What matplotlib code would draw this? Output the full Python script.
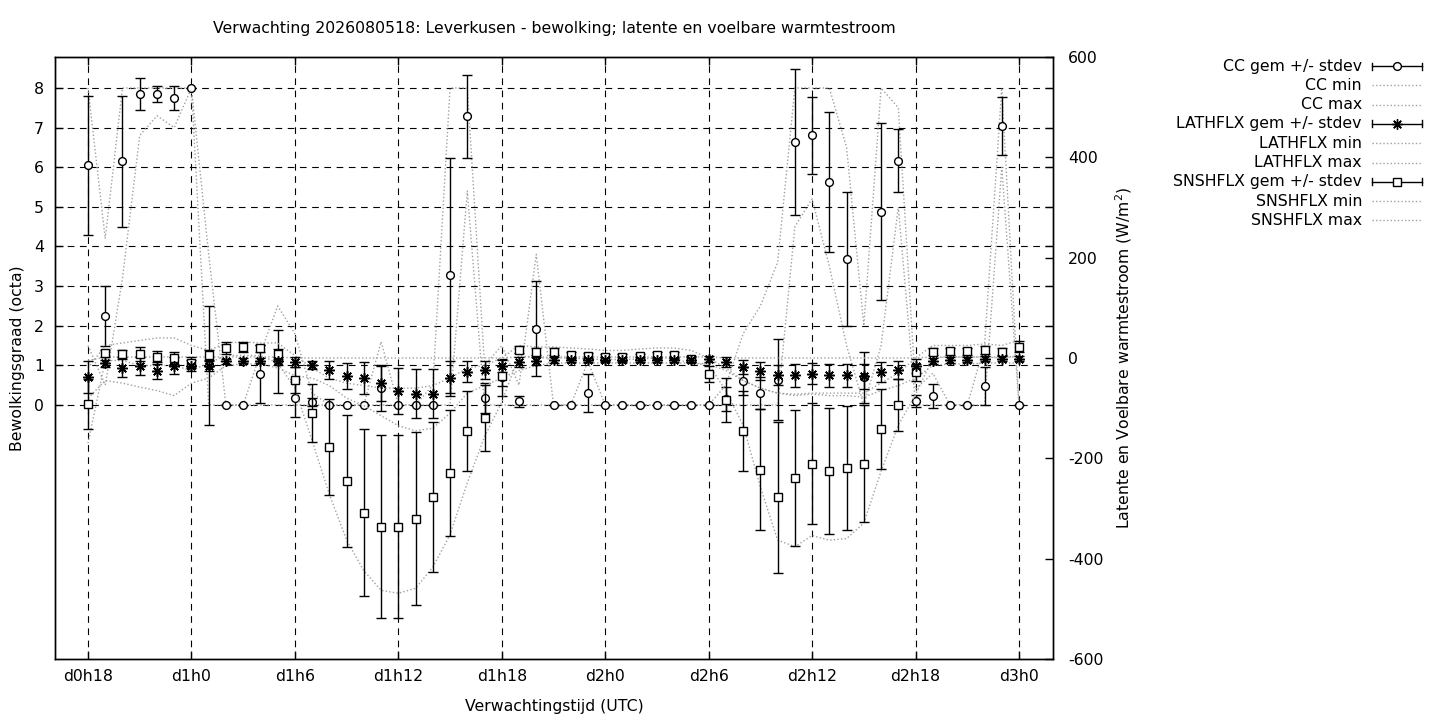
import numpy as np
import matplotlib
matplotlib.use('Agg')
import matplotlib.pyplot as plt
from matplotlib.lines import Line2D

plt.rcParams['font.family'] = ['DejaVu Sans']
plt.rcParams['axes.unicode_minus'] = False

# ---------------- data (hourly, lead time in hours from d0h0) ----------------
hours = list(range(18, 73))
tick_hours = [18, 24, 30, 36, 42, 48, 54, 60, 66, 72]
tick_labels = ['d0h18', 'd1h0', 'd1h6', 'd1h12', 'd1h18',
               'd2h0', 'd2h6', 'd2h12', 'd2h18', 'd3h0']
left_ticks = [0, 1, 2, 3, 4, 5, 6, 7, 8]
right_ticks = [-600, -400, -200, 0, 200, 400, 600]

cc_mean = [6.05, 2.25, 6.15, 7.85, 7.85, 7.75, 8.0, 1.0, 0, 0,
           0.78, 1.1, 0.17, 0.08, 0, 0, 0, 0.44, 0, 0,
           0, 3.27, 7.29, 0.17, 0.7, 0.09, 1.92, 0, 0, 0.3,
           0, 0, 0, 0, 0, 0, 0, 0.15, 0.6, 0.3,
           0.64, 6.64, 6.81, 5.62, 3.69, 0.7, 4.88, 6.17, 0.1, 0.23,
           0, 0, 0.49, 7.04, 0]
cc_sd = [1.75, 0.76, 1.66, 0.4, 0.2, 0.3, 0, 1.5, 0, 0,
         0.73, 0.8, 0.48, 0.1, 0, 0, 0, 0.58, 0, 0,
         0, 2.97, 1.05, 0.38, 0.47, 0.13, 1.2, 0, 0, 0.47,
         0, 0, 0, 0, 0, 0, 0, 0.3, 0.35, 0.4,
         1.03, 1.84, 0.97, 1.77, 1.69, 0.65, 2.24, 0.79, 0.15, 0.31,
         0, 0, 0.48, 0.72, 0]
cc_min = [1.5, 0.5, 3.2, 6.8, 7.3, 7.0, 8.0, 0, 0, 0,
          0, 0, 0, 0, 0, 0, 0, 0, 0, 0,
          0, 0, 5.4, 0, 0, 0, 0, 0, 0, 0,
          0, 0, 0, 0, 0, 0, 0, 0, 0, 0,
          0, 4.5, 5.2, 3.5, 1.5, 0, 1.5, 5.0, 0, 0,
          0, 0, 0, 6.0, 0]
cc_max = [8.0, 4.2, 8.0, 8.0, 8.0, 8.0, 8.0, 3.8, 0, 0,
          1.3, 2.5, 1.8, 0.3, 0, 0, 0, 1.6, 0, 0,
          0.5, 8.0, 8.0, 1.0, 1.5, 0.5, 3.8, 0, 0, 1.1,
          0, 0, 0, 0, 0, 0, 0, 0.5, 1.8, 2.5,
          3.6, 8.0, 8.0, 8.0, 6.5, 2.0, 8.0, 7.5, 0.4, 0.8,
          0, 0, 1.5, 8.0, 0]

lat_mean = [-38.5, -10.6, -20.6, -16, -25, -15, -15, -15, -6, -5.3,
            -5.3, -6, -8, -13.3, -23, -35.4, -40.7, -50, -66, -71.3,
            -71.3, -40.7, -27.8, -23, -15.5, -8, -6.4, -4, -3, -4,
            -3, -3, -3, -3, -3, -3, -2.4, -8, -17.8, -25.5,
            -34, -34, -31.6, -34, -34, -36, -28.5, -23.8, -15.4, -5.6,
            -4, -3.3, -1.8, -1, -1.8]
lat_sd = [32, 7, 18, 17, 17, 17, 11, 10, 5, 5,
          5, 8, 10, 8, 18, 26, 32, 35, 46, 49,
          49, 35, 21, 18, 12, 10, 8, 5, 4, 4,
          4, 4, 4, 4, 4, 4, 6, 10, 14, 18,
          20, 23, 21, 23, 23, 25, 20, 18, 14, 6,
          5, 5, 5, 5, 5]
lat_min = [-80, -45, -50, -58, -65, -75, -50, -40, -15, -12,
           -12, -20, -35, -40, -55, -80, -95, -115, -135, -145,
           -140, -110, -70, -55, -40, -25, -15, -10, -10, -10,
           -10, -10, -10, -10, -10, -10, -12, -25, -45, -60,
           -70, -75, -72, -75, -75, -78, -65, -55, -40, -15,
           -12, -12, -10, -10, -10]
lat_max = [-5, 2, 2, 2, 2, 2, 2, 2, 2, 2,
           2, 2, 0, 0, 0, 0, 0, 0, 0, 0,
           0, 0, 0, 0, 0, 2, 2, 2, 2, 2,
           2, 2, 2, 2, 2, 2, 2, 0, 0, 0,
           0, 0, 0, 0, 0, 0, 0, 0, 0, 2,
           2, 2, 2, 2, 2]

sns_mean = [-92, 9.3, 8, 8, 1.3, -0.7, -9.3, 5.3, 19.3, 21.3,
            19.3, 8, -44, -110, -178, -245, -308, -336, -336, -320,
            -277, -229, -145, -119, -35, 16.5, 12, 12, 6, 3.7,
            2, 2, 3.7, 6, 6, -1.8, -31.5, -83, -145.5, -222.6,
            -278, -239, -210.5, -225, -219, -210.5, -141.7, -93.4, -28.4, 12.8,
            13.7, 13.7, 16, 12.8, 22]
sns_sd = [50, 7, 7, 13, 13, 12, 11, 10, 12, 10,
          7, 10, 26, 58, 96, 131, 166, 182, 183, 173,
          150, 125, 80, 66, 20, 7, 7, 7, 6, 6,
          5, 5, 5, 6, 6, 6, 16, 44, 80, 120,
          151, 135, 120, 125, 124, 116, 79, 52, 17, 7,
          7, 7, 8, 7, 11]
sns_min = [-170, -5, -5, -15, -15, -15, -25, -10, 5, 5,
           5, -10, -60, -165, -272, -363, -424, -463, -469, -459,
           -417, -352, -249, -157, -88, 5, 0, 0, 0, -2,
           -3, -3, -2, 0, 0, -12, -12, -66, -134, -257,
           -363, -376, -354, -363, -360, -329, -226, -134, -73, 0,
           2, 2, 2, 0, 5]
sns_max = [-20, 25, 30, 35, 40, 40, 25, 15, 30, 32,
           30, 30, 5, -20, -40, -50, -55, -60, -60, -60,
           -55, -40, -20, -15, 0, 25, 22, 22, 20, 18,
           15, 15, 18, 20, 20, 15, 0, -20, -45, -60,
           -70, -72, -70, -70, -70, -70, -50, -30, 0, 25,
           25, 25, 28, 25, 35]

title = 'Verwachting 2026080518: Leverkusen - bewolking; latente en voelbare warmtestroom'

# ---------------- figure ----------------
W, H = 1440, 720
FS = 11.3
fig = plt.figure(figsize=(W / 100, H / 100), dpi=100)
ax = fig.add_axes([55 / W, 1 - 659 / H, (1053 - 55) / W, (659 - 57) / H])
ax2 = ax.twinx()

ax.set_xlim(16.086, 73.972)
ax.set_ylim(-6.410, 8.782)
ax2.set_ylim(-600, 600)

dot_style = dict(color='#a0a0a0', lw=1.0, linestyle=(0, (1, 1.6)))
eb_style = dict(ecolor='black', elinewidth=1.0, capsize=3.5, capthick=1.0,
                linestyle='none', mec='black', mew=1.0, zorder=4)
MS_O = 5.6
MS_AST = 7.5

# CC (left axis)
ax.errorbar(hours, cc_mean, yerr=cc_sd, fmt='o', ms=MS_O, mfc='white', **eb_style)
ax.plot(hours, cc_min, zorder=2, **dot_style)
ax.plot(hours, cc_max, zorder=2, **dot_style)

# LATHFLX and SNSHFLX (right axis)
ax2.plot(hours, lat_min, zorder=2, **dot_style)
ax2.plot(hours, lat_max, zorder=2, **dot_style)
ax2.plot(hours, sns_min, zorder=2, **dot_style)
ax2.plot(hours, sns_max, zorder=2, **dot_style)
ax2.errorbar(hours, lat_mean, yerr=lat_sd, fmt='none', **eb_style)
ax2.plot(hours, lat_mean, linestyle='none', marker=(8, 2, 0), ms=MS_AST,
         mec='black', mew=1.1, zorder=5)
ax2.errorbar(hours, sns_mean, yerr=sns_sd, fmt='s', ms=MS_O, mfc='white', **eb_style)

# grid & ticks
ax.set_xticks(tick_hours)
ax.set_xticklabels(tick_labels)
ax.set_yticks(left_ticks)
ax2.set_yticks(right_ticks)
ax.grid(True, color='black', lw=0.8, linestyle=(0, (6, 5)))
ax.set_axisbelow(True)
ax.tick_params(axis='both', direction='in', length=5.5, width=1, labelsize=FS,
               top=True, right=True)
ax.tick_params(axis='x', pad=7)
ax.tick_params(axis='y', pad=8)
ax2.tick_params(axis='y', direction='in', length=5.5, width=1, labelsize=FS, pad=11)
for a in (ax, ax2):
    for s in a.spines.values():
        s.set_linewidth(1.0)

# labels
fig.text(554 / W, 1 - 29 / H, title, ha='center', va='center', fontsize=FS)
fig.text(554 / W, 1 - 706 / H, 'Verwachtingstijd (UTC)', ha='center', va='center', fontsize=FS)
fig.text(18 / W, 1 - 358 / H, 'Bewolkingsgraad (octa)', ha='center', va='center',
         rotation=90, fontsize=FS)
fig.text(1124 / W, 1 - 358 / H, r'Latente en Voelbare warmtestroom (W/m$^2$)',
         ha='center', va='center', rotation=90, fontsize=FS)

# legend (gnuplot style: text right-aligned, sample on the right)
legend_entries = [
    ('CC gem +/- stdev', 'eb', 'o'),
    ('CC min', 'dot', None),
    ('CC max', 'dot', None),
    ('LATHFLX gem +/- stdev', 'eb', (8, 2, 0)),
    ('LATHFLX min', 'dot', None),
    ('LATHFLX max', 'dot', None),
    ('SNSHFLX gem +/- stdev', 'eb', 's'),
    ('SNSHFLX min', 'dot', None),
    ('SNSHFLX max', 'dot', None),
]
x_text, x0, x1 = 1362, 1372, 1422
for i, (lab, kind, mk) in enumerate(legend_entries):
    yp = 66 + i * 19.3
    fy = 1 - yp / H
    fig.text(x_text / W, fy, lab, ha='right', va='center', fontsize=FS)
    if kind == 'eb':
        fig.add_artist(Line2D([x0 / W, x1 / W], [fy, fy], color='black', lw=1.0,
                              transform=fig.transFigure))
        for xc in (x0, x1):
            fig.add_artist(Line2D([xc / W, xc / W], [fy - 3.5 / H, fy + 3.5 / H],
                                  color='black', lw=1.0, transform=fig.transFigure))
        fig.add_artist(Line2D([(x0 + x1) / 2 / W], [fy], marker=mk,
                              ms=MS_O if mk != (8, 2, 0) else MS_AST,
                              mfc='white', mec='black', mew=1.0, linestyle='none',
                              transform=fig.transFigure))
    else:
        fig.add_artist(Line2D([x0 / W, x1 / W], [fy, fy], transform=fig.transFigure,
                              **dot_style))

fig.savefig('out.png', dpi=100)
